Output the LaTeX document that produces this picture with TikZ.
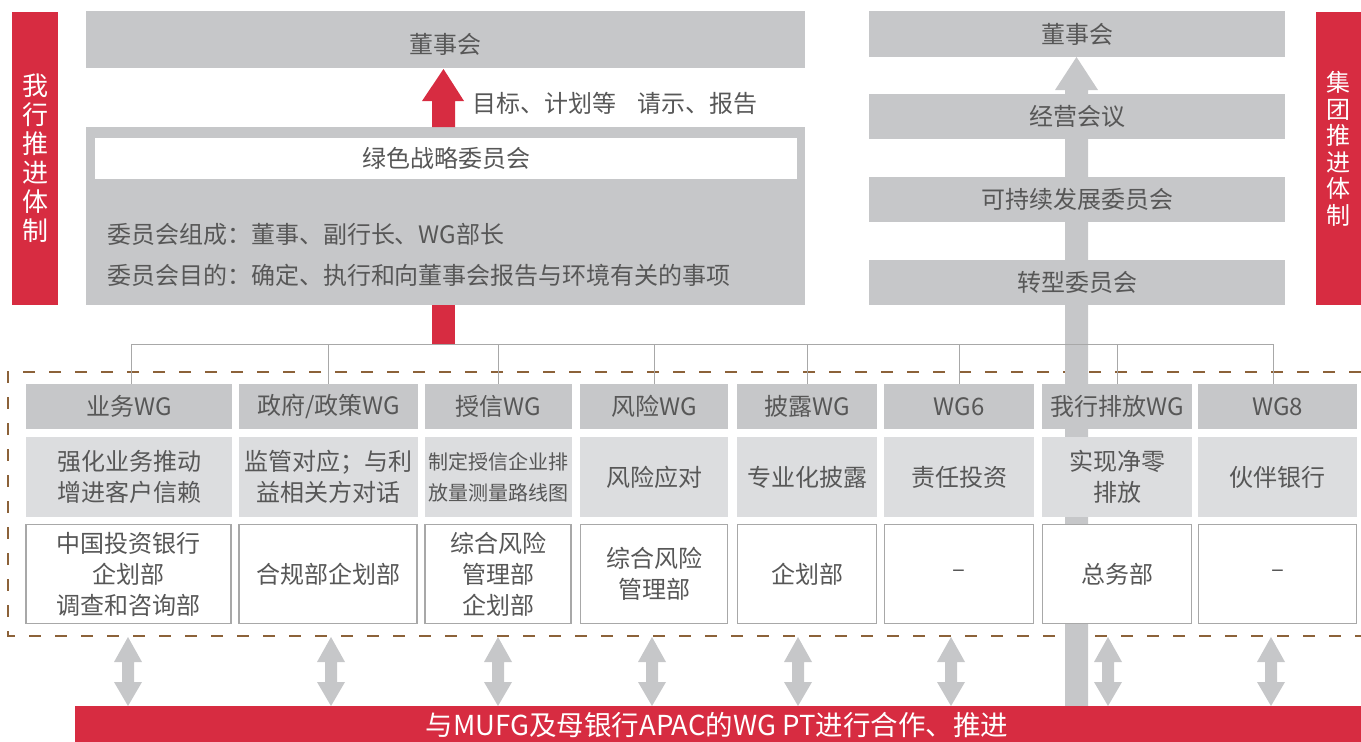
\documentclass[tikz,border=0pt]{standalone}
\usepackage{fontspec}
\setmainfont{Noto Sans CJK SC}
\definecolor{txt}{HTML}{575757}
\definecolor{boxgray}{HTML}{C6C7C9}
\definecolor{lightbox}{HTML}{DCDDDF}
\definecolor{mred}{HTML}{D72C41}
\definecolor{framebrown}{HTML}{8C6239}
\definecolor{linegray}{HTML}{A8A8A8}
\begin{document}
\begin{tikzpicture}[x=1pt,y=-1pt,
  every node/.style={inner sep=0pt, outer sep=0pt, text=txt, font=\fontsize{24}{31}\selectfont},
  graybox/.style={fill=boxgray, draw=none},
  midbox/.style={fill=lightbox, draw=none, align=center},
  deptbox/.style={fill=white, draw=linegray, line width=1.5pt, align=center},
  redbar/.style={fill=mred, draw=none, text=white},
  wgframe/.style={draw=framebrown, line width=2pt, dash pattern=on 12pt off 14pt},
  conn/.style={draw=linegray, line width=1pt},
  fatarrow/.style={fill=boxgray, draw=none}]
\useasboundingbox (0,0) rectangle (1361,742);

% dashed frame of the working groups
\draw[wgframe] (1361,372) -- (8,372) -- (8,636) -- (1361,636);

% group escalation arrow (gray)
\fill[fatarrow] (1076.5,57) -- (1098,90) -- (1088,90) -- (1088,706) -- (1065,706) -- (1065,90) -- (1055,90) -- cycle;

% side bars
\node[redbar, minimum width=46, minimum height=293, align=center,
      font=\fontsize{26}{29}\selectfont] (ourbank) at (35,158.5) {我\\行\\推\\进\\体\\制};
\node[redbar, minimum width=45, minimum height=293] (groupbar) at (1338.5,158.5) {};
\node[text=white, align=center, font=\fontsize{24}{26.5}\selectfont] (grouptxt) at (1338.5,149) {集\\团\\推\\进\\体\\制};

% left top structure
\node[graybox, minimum width=719, minimum height=57] (board) at (445.5,39.5) {};
\node (boardtxt) at (445.5,44) {董事会};
\node[graybox, minimum width=719, minimum height=178] (gsc) at (445.5,216) {};
\node[fill=white, minimum width=702, minimum height=41] (gsctitle) at (446,158.5) {绿色战略委员会};
\node[anchor=west] (gscmem) at (107,234) {委员会组成：董事、副行长、WG部长};
\node[anchor=west] (gscaim) at (107,275) {委员会目的：确定、执行和向董事会报告与环境有关的事项};

% red upward arrow
\fill[mred] (443.5,69) -- (464,101) -- (455,101) -- (455,127) -- (432,127) -- (432,101) -- (422,101) -- cycle;
\node[anchor=west] (report) at (472,103) {目标、计划等\hspace{22pt}请示、报告};

% right structure
\node[graybox, minimum width=416, minimum height=46] (gboard) at (1077,34) {董事会};
\node[graybox, minimum width=416, minimum height=45] (mgmt) at (1077,116.5) {经营会议};
\node[graybox, minimum width=416, minimum height=45] (sust) at (1077,199.5) {可持续发展委员会};
\node[graybox, minimum width=416, minimum height=45] (trans) at (1077,282.5) {转型委员会};

% working group headers
\node[graybox, minimum width=206, minimum height=45] (h1) at (129,406.5) {业务WG};
\node[graybox, minimum width=179, minimum height=45] (h2) at (328.5,406.5) {政府/政策WG};
\node[graybox, minimum width=147, minimum height=45] (h3) at (498.5,406.5) {授信WG};
\node[graybox, minimum width=148, minimum height=45] (h4) at (654,406.5) {风险WG};
\node[graybox, minimum width=140, minimum height=45] (h5) at (807,406.5) {披露WG};
\node[graybox, minimum width=150, minimum height=45] (h6) at (959,406.5) {WG6};
\node[graybox, minimum width=150, minimum height=45] (h7) at (1117,406.5) {我行排放WG};
\node[graybox, minimum width=159, minimum height=45] (h8) at (1277.5,406.5) {WG8};

% connectors from committee to working groups
\coordinate (bus) at (0,344);
\fill[mred] (432,305) rectangle (455,344);
\draw[conn] ([xshift=2pt]h1.north) -- ([xshift=2pt]h1.north |- bus) -- ([xshift=-4pt]h8.north |- bus) -- ([xshift=-4pt]h8.north);
\foreach \n in {h2,h3,h4,h5,h6,h7}
  \draw[conn] (\n.north |- bus) -- (\n.north);

% missions
\node[midbox, minimum width=206, minimum height=80] (m1) at (129,477) {强化业务推动\\增进客户信赖};
\node[midbox, minimum width=179, minimum height=80] (m2) at (328.5,477) {监管对应；与利\\益相关方对话};
\node[midbox, minimum width=147, minimum height=80, font=\fontsize{20}{31}\selectfont] (m3) at (498.5,477) {制定授信企业排\\放量测量路线图};
\node[midbox, minimum width=148, minimum height=80] (m4) at (654,477) {风险应对};
\node[midbox, minimum width=140, minimum height=80] (m5) at (807,477) {专业化披露};
\node[midbox, minimum width=150, minimum height=80] (m6) at (959,477) {责任投资};
\node[midbox, minimum width=150, minimum height=80] (m7) at (1117,477) {实现净零\\排放};
\node[midbox, minimum width=159, minimum height=80] (m8) at (1277.5,477) {伙伴银行};

% departments
\node[deptbox, minimum width=205, minimum height=99] (d1) at (128.5,574) {中国投资银行\\企划部\\调查和咨询部};
\node[deptbox, minimum width=178, minimum height=99] (d2) at (328,574) {合规部企划部};
\node[deptbox, minimum width=146, minimum height=99] (d3) at (498,574) {综合风险\\管理部\\企划部};
\node[deptbox, minimum width=147, minimum height=99] (d4) at (654,574) {综合风险\\管理部};
\node[deptbox, minimum width=139, minimum height=99] (d5) at (807,574) {企划部};
\node[deptbox, minimum width=149, minimum height=99] (d6) at (959,574) {–};
\node[deptbox, minimum width=149, minimum height=99] (d7) at (1117,574) {总务部};
\node[deptbox, minimum width=158, minimum height=99] (d8) at (1277.5,574) {–};

% bottom cooperation bar
\node[redbar, minimum width=1286, minimum height=36] (coop) at (718,724) {};
\node[text=white, font=\fontsize{27.5}{30}\selectfont] (cooptxt) at (717,725.5) {与MUFG及母银行APAC的WG PT进行合作、推进};

% two-way arrows between working groups and the cooperation bar
\foreach \x in {128,331,498,652,798,951,1108,1271}
  \fill[fatarrow, shift={(\x,0)}] (0,637) -- (14,662) -- (6,662) -- (6,682) -- (14,682) -- (0,706) -- (-14,682) -- (-6,682) -- (-6,662) -- (-14,662) -- cycle;
\end{tikzpicture}
\end{document}
